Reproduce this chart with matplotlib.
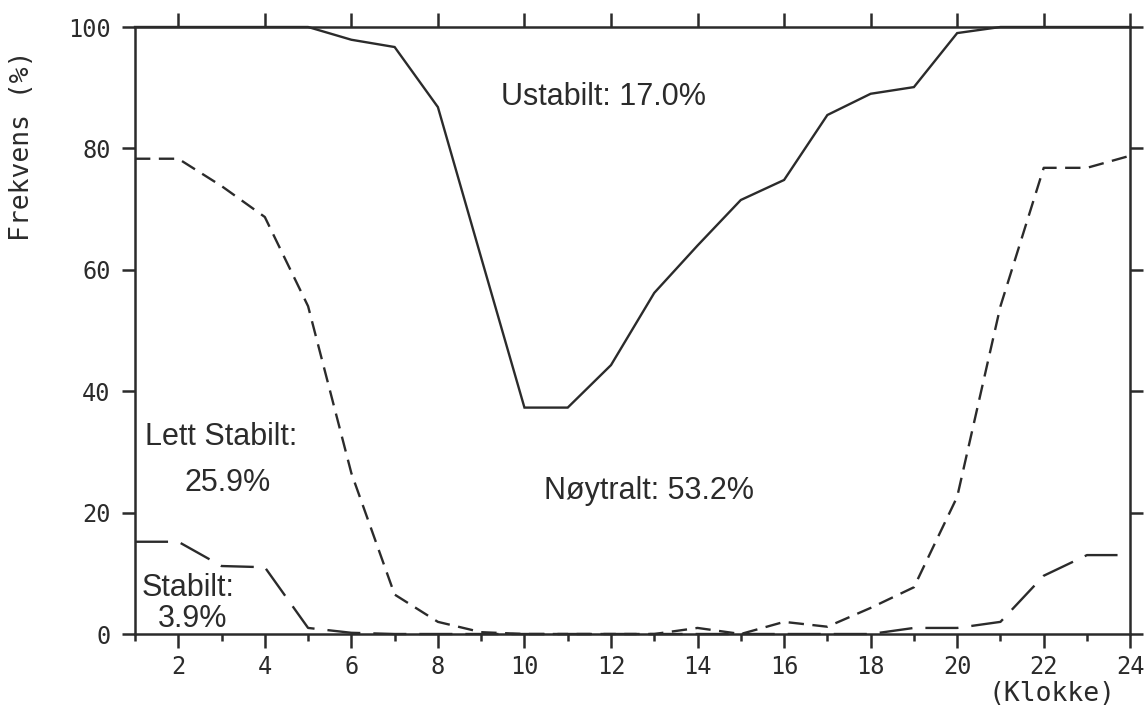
import numpy as np
import matplotlib
matplotlib.use("Agg")
import matplotlib.pyplot as plt

# hours of the day
hours = list(range(1, 25))

# upper boundary of "Nøytralt" (100 - Ustabilt)
ustabilt_grense = [100, 100, 100, 100, 100, 97.9, 96.7, 86.8, 62, 37.3, 37.3, 44.3,
                   56.2, 64, 71.5, 74.8, 85.5, 89, 90.1, 99, 100, 100, 100, 100]
# upper boundary of "Lett stabilt"
lett_stabilt = [78.3, 78.3, 73.8, 68.7, 54, 26.5, 6.5, 2, 0.3, 0, 0, 0,
                0, 1, 0, 2, 1.2, 4.3, 7.7, 22.6, 54, 76.8, 76.8, 78.8]
# upper boundary of "Stabilt"
stabilt = [15.2, 15.2, 11.2, 11, 1, 0.2, 0, 0, 0, 0, 0, 0,
           0, 0, 0, 0, 0, 0, 1, 1, 2, 9.6, 13, 13]

x_major = list(range(2, 25, 2))
x_minor = list(range(1, 25, 2))
y_ticks = [0, 20, 40, 60, 80, 100]

ink = "#2b2b2b"
mono = "DejaVu Sans Mono"
sans = "Liberation Sans"

fig = plt.figure(figsize=(11.44, 7.05), dpi=100)
ax = fig.add_axes([0.118, 0.1007, 0.870, 0.861])

ax.plot(hours, ustabilt_grense, color=ink, lw=1.7, solid_joinstyle="miter", clip_on=False)
ax.plot(hours, lett_stabilt, color=ink, lw=1.7, dashes=(6.5, 3.6), clip_on=False)
ax.plot(hours, stabilt, color=ink, lw=1.7, dashes=(14, 5.5), clip_on=False)

ax.set_xlim(1, 24)
ax.set_ylim(0, 100)

for s in ax.spines.values():
    s.set_linewidth(1.8)
    s.set_color(ink)

ax.set_xticks(x_major)
ax.set_xticks(x_minor, minor=True)
ax.set_yticks(y_ticks)
ax.tick_params(axis="x", which="major", direction="out", length=10, width=1.8,
               top=True, colors=ink, pad=5)
ax.tick_params(axis="x", which="minor", direction="out", length=5, width=1.8,
               top=False, colors=ink)
ax.tick_params(axis="y", which="major", direction="out", length=9.5, width=1.8,
               right=True, colors=ink, pad=8)
for lab in ax.get_xticklabels() + ax.get_yticklabels():
    lab.set_fontfamily(mono)
    lab.set_fontsize(17)
    lab.set_color(ink)

fig.text(0.019, 0.793, "Frekvens (%)", rotation=90, ha="center", va="center",
         family=mono, fontsize=19, color=ink)
fig.text(0.920, 0.016, "(Klokke)", ha="center", va="center",
         family=mono, fontsize=19, color=ink)

tkw = dict(family=sans, fontsize=22, color=ink)
ax.text(11.82, 88.5, "Ustabilt: 17.0%", ha="center", va="center", **tkw)
ax.text(12.88, 23.6, "Nøytralt: 53.2%", ha="center", va="center", **tkw)
ax.text(1.23, 32.4, "Lett Stabilt:", ha="left", va="center", **tkw)
ax.text(3.13, 24.9, "25.9%", ha="center", va="center", **tkw)
ax.text(1.16, 7.6, "Stabilt:", ha="left", va="center", **tkw)
ax.text(2.32, 2.5, "3.9%", ha="center", va="center", **tkw)

fig.savefig("out.png", dpi=100)
